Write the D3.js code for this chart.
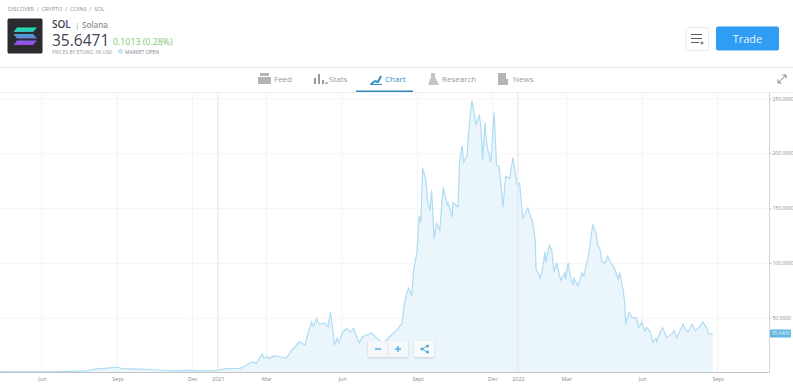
<!DOCTYPE html>
<html>
<head>
<meta charset="utf-8">
<script src="https://d3js.org/d3.v7.min.js"></script>
<style>
    html, body { margin: 0; padding: 0; background: #fff; overflow: hidden; }
    svg { display: block; }
    text { font-family: "Open Sans", sans-serif; }
    .axis .domain { display: none; }
    .axis text { fill: #8a8a8a; font-size: 5.5px; font-family: "Open Sans", sans-serif; }
    .axis.price text { font-size: 5px; }
    .axis line { stroke: #bbb; }
</style>
</head>
<body>
<div id="chart"></div>
<script>
// days counted from 1 Jan 2021
var days = [-265, -217, -180, -158, -150, -144, -134, -123, -117, -95, -77, -58, -40, -22, 0,
    9, 27, 33, 41, 47, 54, 56, 60, 63, 69, 75, 83, 88, 94, 99, 106, 108, 111, 114, 116, 120, 123, 130, 134, 137, 139,
    142, 145, 147, 152, 157, 161, 165, 172, 176, 187, 195, 201, 209, 218, 224, 227, 230, 232, 236, 238, 242, 245, 247,
    249, 253, 255, 258, 260, 263, 266, 270, 274, 279, 280, 285, 286, 292, 294, 297, 299, 303, 305, 308, 309, 310,
    314, 318, 320, 322, 325, 326, 328, 332, 336, 339, 342, 347, 350, 355, 359, 364, 367, 371, 377, 381, 383, 386, 387,
    392, 395, 398, 399, 403, 406, 409, 412, 417, 422, 423, 426, 429, 432, 433, 438, 443, 445, 449, 451, 456, 460, 462,
    465, 467, 471, 474, 478, 482, 487, 489, 493, 495, 496, 500, 504, 509, 512, 516, 519, 522, 526, 529, 533, 534, 538,
    541, 546, 552, 555, 558, 566, 568, 572, 577, 581, 585, 590, 595, 597, 602];
var prices = [0.8, 0.7, 1, 1.5, 3, 3.5, 4, 5, 3.5, 3, 2.5, 1.6, 2, 1.5, 2,
    3.5, 3.8, 6, 9.5, 8.7, 17, 13, 14.4, 13, 15.3, 14.4, 13, 18.7, 23.5, 28, 25, 31.5, 38.8, 46, 42, 49, 44, 45, 42, 55, 43,
    25, 31, 27, 37, 40, 37, 40, 27, 32.6, 36, 30, 27, 32.6, 39, 45, 63, 73, 77, 70, 93, 109, 143, 137,
    187, 175.6, 157, 148, 166, 122, 136, 130, 169, 153, 155, 142, 155, 151, 192, 207, 192, 198, 218, 242, 248, 244,
    226, 235, 224, 194, 228, 215, 205, 192, 237, 189, 188, 151, 179, 177, 196, 171, 173, 141, 150, 141, 137, 121, 95,
    86, 95, 110, 100, 116, 112, 92, 100, 84, 91, 85, 100, 87, 80, 86, 79, 91, 88, 101, 107, 135, 127, 116,
    112, 101, 100, 106, 100, 96, 85, 91, 75, 63, 44, 55, 50, 50, 41, 46, 38, 41, 37, 28, 31, 28, 37,
    41, 32, 35, 38, 32, 44, 40, 37, 44, 38, 41, 46, 40, 35, 35.6];
var priceTicks = [50, 100, 150, 200, 250];
var monthTicks = ["2020-06-01", "2020-09-01", "2020-12-01", "2021-01-01", "2021-03-01", "2021-06-01",
    "2021-09-01", "2021-12-01", "2022-01-01", "2022-03-01", "2022-06-01", "2022-09-01"];
var monthLabels = ["Jun", "Sept", "Dec", "2021", "Mar", "Jun", "Sept", "Dec", "2022", "Mar", "Jun", "Sept"];
var yearTicks = ["2021-01-01", "2022-01-01"];
var tabNames = ["Feed", "Stats", "Chart", "Research", "News"];
var lastPrice = "35.6400";

var width = 793, height = 385;
var start = new Date(Date.UTC(2021, 0, 1));
function toDate(d) { return d3.utcDay.offset(start, d); }

var svg = d3.select("#chart").append("svg").attr("width", width).attr("height", height);

var x = d3.scaleUtc()
    .domain([toDate(-265), toDate(671)])
    .range([0, 769.5]);
var y = d3.scaleLinear()
    .domain([0, 250])
    .range([372.5, 98.5]);

var points = days.map(function (d, i) { return { date: toDate(d), price: prices[i] }; });
var tickDates = monthTicks.map(function (d) { return new Date(d); });

// grid
svg.append("g").selectAll("line").data(tickDates).enter().append("line")
    .attr("x1", function (d) { return x(d); })
    .attr("x2", function (d) { return x(d); })
    .attr("y1", 93).attr("y2", 372)
    .attr("stroke", "#f3f3f3");
svg.append("g").selectAll("line").data(priceTicks).enter().append("line")
    .attr("x1", 0).attr("x2", 769)
    .attr("y1", function (d) { return y(d) + 0.5; })
    .attr("y2", function (d) { return y(d) + 0.5; })
    .attr("stroke", "#f5f5f5");

// area and line
var area = d3.area()
    .x(function (d) { return x(d.date); })
    .y0(y(0))
    .y1(function (d) { return y(d.price); });
var line = d3.line()
    .x(function (d) { return x(d.date); })
    .y(function (d) { return y(d.price); });
svg.append("path").datum(points).attr("d", area).attr("fill", "#ebf5fc");
svg.append("path").datum(points).attr("d", line)
    .attr("fill", "none").attr("stroke", "#aedcf3").attr("stroke-width", 1.2);

// year lines go over the fill
svg.append("g").selectAll("line").data(yearTicks).enter().append("line")
    .attr("x1", function (d) { return x(new Date(d)); })
    .attr("x2", function (d) { return x(new Date(d)); })
    .attr("y1", 93).attr("y2", 372)
    .attr("stroke", "#e3e7ea");

// axes
svg.append("g").attr("class", "axis")
    .attr("transform", "translate(0,372.5)")
    .call(d3.axisBottom(x).tickValues(tickDates).tickSize(0).tickPadding(5)
        .tickFormat(function (d, i) { return monthLabels[i]; }));
svg.append("g").attr("class", "axis price")
    .attr("transform", "translate(769.5,0)")
    .call(d3.axisRight(y).tickValues(priceTicks).tickSize(2).tickPadding(1)
        .tickFormat(d3.format(".4f")));
svg.append("line").attr("x1", 0).attr("x2", 769.5).attr("y1", 372.5).attr("y2", 372.5).attr("stroke", "#c4c4c4");
svg.append("line").attr("x1", 769.5).attr("x2", 769.5).attr("y1", 93).attr("y2", 372.5).attr("stroke", "#d4d4d4");

// last price tag
svg.append("rect").attr("x", 770).attr("y", y(35.6) - 4).attr("width", 21).attr("height", 8)
    .attr("rx", 1).attr("fill", "#5fb6e2");
svg.append("text").attr("x", 771.5).attr("y", y(35.6) + 1.8).attr("font-size", 5).attr("fill", "#e8f5fc").text(lastPrice);

// zoom and share buttons
var btn = svg.append("g");
btn.append("rect").attr("x", 368).attr("y", 341).attr("width", 40).attr("height", 16).attr("rx", 1.5).attr("fill", "#f4f8fa")
    .style("filter", "drop-shadow(0 1px 1px rgba(0,0,0,.15))");
btn.append("line").attr("x1", 388).attr("x2", 388).attr("y1", 341).attr("y2", 357).attr("stroke", "#e2e6e8");
btn.append("rect").attr("x", 414).attr("y", 341).attr("width", 20).attr("height", 16).attr("rx", 1.5).attr("fill", "#f8fbfc")
    .style("filter", "drop-shadow(0 1px 1px rgba(0,0,0,.15))");
btn.append("path").attr("stroke", "#55aee0").attr("stroke-width", 1.5).attr("fill", "none")
    .attr("d", "M375 349H381M395 349H401M398 346V352");
btn.append("path").attr("stroke", "#55aee0").attr("stroke-width", 1).attr("fill", "none")
    .attr("d", "M427.5 346L422 349L427.5 352");
btn.selectAll("circle").data([[427.5, 346], [422, 349], [427.5, 352]]).enter().append("circle")
    .attr("cx", function (d) { return d[0]; }).attr("cy", function (d) { return d[1]; })
    .attr("r", 1.6).attr("fill", "#55aee0");

// header
svg.append("text").attr("x", 8).attr("y", 11).attr("font-size", 5.5).attr("fill", "#8d8d8d")
    .attr("xml:space", "preserve").text("DISCOVER  /  CRYPTO  /  COINS  /  SOL");
svg.append("rect").attr("x", 7.5).attr("y", 18.5).attr("width", 35).attr("height", 35).attr("rx", 1.5).attr("fill", "#2b2b2f");
var defs = svg.append("defs");
var grad = defs.append("linearGradient").attr("id", "sol").attr("x1", 0).attr("x2", 0).attr("y1", 0).attr("y2", 1);
grad.append("stop").attr("offset", "0%").attr("stop-color", "#19e6b0");
grad.append("stop").attr("offset", "50%").attr("stop-color", "#5a8fd6");
grad.append("stop").attr("offset", "100%").attr("stop-color", "#a640f0");
svg.append("path").attr("fill", "url(#sol)")
    .attr("d", "M17 27.5L37 27.5L33 32L13.5 32ZM13.5 34L33 34L37 38.5L17 38.5ZM17 40.5L37 40.5L33 45L13.5 45Z");

svg.append("text").attr("x", 52).attr("y", 28).attr("font-size", 10).attr("font-weight", 600).attr("fill", "#3d4450").text("SOL");
svg.append("text").attr("x", 75).attr("y", 28).attr("font-size", 8).attr("fill", "#a0a0a0").text("|");
svg.append("text").attr("x", 82).attr("y", 27.5).attr("font-size", 8).attr("font-weight", 600).attr("fill", "#8b8f98").text("Solana");
svg.append("text").attr("x", 52).attr("y", 46).attr("font-size", 15.5).attr("fill", "#3d4450").text("35.6471");
svg.append("text").attr("x", 113).attr("y", 45).attr("font-size", 8.8).attr("fill", "#7cc576").text("0.1013 (0.28%)");
svg.append("text").attr("x", 52).attr("y", 53.5).attr("font-size", 5).attr("fill", "#9a9a9a").text("PRICES BY ETORO, IN USD");
svg.append("circle").attr("cx", 120.5).attr("cy", 51.5).attr("r", 2).attr("fill", "#cfe6f5").attr("stroke", "#8cc4e8").attr("stroke-width", 0.5);
svg.append("text").attr("x", 125).attr("y", 53.5).attr("font-size", 5).attr("fill", "#7f8790").text("MARKET OPEN");

// watchlist + trade buttons
svg.append("rect").attr("x", 686).attr("y", 27.5).attr("width", 22.5).attr("height", 23).attr("rx", 1.5)
    .attr("fill", "#fff").attr("stroke", "#ececec");
svg.append("path").attr("stroke", "#555c66").attr("stroke-width", 1).attr("fill", "none")
    .attr("d", "M691 34.5H702M691 38.5H702M691 42.5H699M702 41.5V44.5M700.5 43H703.5");
svg.append("rect").attr("x", 716).attr("y", 26.5).attr("width", 63).attr("height", 24).attr("rx", 2).attr("fill", "#2f9df4");
svg.append("text").attr("x", 747.5).attr("y", 42.5).attr("text-anchor", "middle").attr("font-size", 11)
    .attr("font-weight", 500).attr("fill", "#eaf5fe").text("Trade");

// tab bar
svg.append("line").attr("x1", 0).attr("x2", 793).attr("y1", 67.5).attr("y2", 67.5).attr("stroke", "#ececec");
svg.append("line").attr("x1", 0).attr("x2", 793).attr("y1", 92.5).attr("y2", 92.5).attr("stroke", "#efefef");
var tabX = [274, 329, 385, 442, 513];
svg.append("g").selectAll("text").data(tabNames).enter().append("text")
    .attr("x", function (d, i) { return tabX[i]; })
    .attr("y", 81.5)
    .attr("font-size", 8)
    .attr("fill", function (d) { return d == "Chart" ? "#2f8fc4" : "#9a9a9a"; })
    .text(function (d) { return d; });
svg.append("rect").attr("x", 356).attr("y", 90.5).attr("width", 57).attr("height", 1.5).attr("fill", "#2b86b8");

// tab icons
var icons = svg.append("g");
icons.append("path").attr("fill", "#b4b4b4")
    .attr("d", "M258 77H271V84H258ZM260 73H269V76H260Z");
icons.append("path").attr("stroke", "#9a9a9a").attr("stroke-width", 2).attr("fill", "none")
    .attr("d", "M315 84V78M319 84V74M323 84V80M326.5 84V82");
icons.append("path").attr("stroke", "#2f8fc4").attr("stroke-width", 2).attr("fill", "none")
    .attr("d", "M371 84L375 81L378 82L381 76");
icons.append("path").attr("fill", "#2f8fc4").attr("d", "M370 84H382V85H370Z");
icons.append("path").attr("fill", "#c4c4c4")
    .attr("d", "M431 73H435V77L439 85H428L431 77Z");
icons.append("path").attr("fill", "#b4b4b4")
    .attr("d", "M498 73H506V85H498ZM506 79H508V85H506Z");

// expand icon
svg.append("path").attr("stroke", "#808890").attr("stroke-width", 1).attr("fill", "none")
    .attr("d", "M778 83L786 75M782.5 75H786V78.5M778 79.5V83H781.5");
</script>
</body>
</html>
